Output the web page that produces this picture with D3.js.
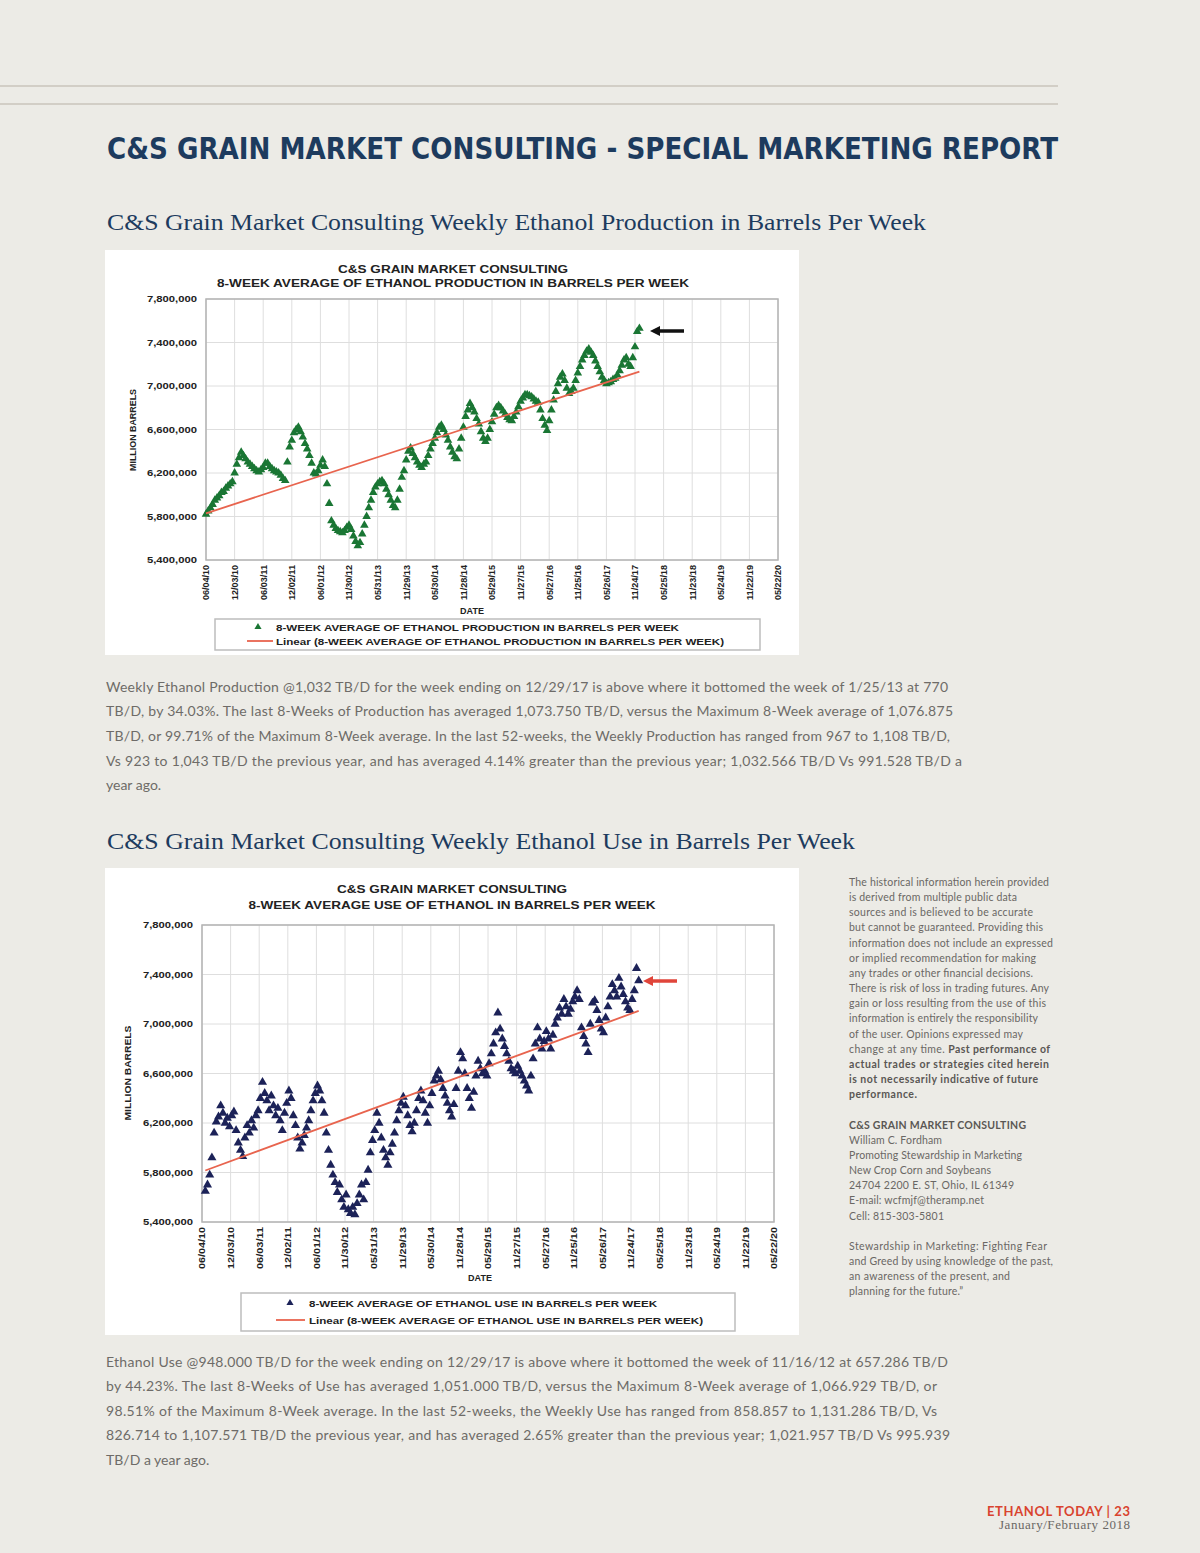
<!DOCTYPE html>
<html><head><meta charset="utf-8">
<script src="https://cdn.jsdelivr.net/npm/d3@7"></script>
<style>body{margin:0;background:#ecebe6;}svg{display:block;}</style>
</head><body>
<svg id="page" width="1200" height="1553"></svg>
<script>
// ---------------- DATA ----------------
const xTickLabels = ["06/04/10","12/03/10","06/03/11","12/02/11","06/01/12","11/30/12","05/31/13","11/29/13","05/30/14","11/28/14","05/29/15","11/27/15","05/27/16","11/25/16","05/26/17","11/24/17","05/25/18","11/23/18","05/24/19","11/22/19","05/22/20"];
const yTickValues = [5.4, 5.8, 6.2, 6.6, 7.0, 7.4, 7.8]; // million barrels
const yTickLabels = ["5,400,000","5,800,000","6,200,000","6,600,000","7,000,000","7,400,000","7,800,000"];

// 8-week average ethanol production, million barrels/week, one value every 2 weeks from 06/04/10
const productionStart = "06/04/10";
const productionValues = [
5.82,5.85,5.88,5.91,5.95,5.97,5.99,6.02,6.03,6.06,
6.08,6.10,6.12,6.20,6.28,6.34,6.39,6.36,6.33,6.30,
6.28,6.26,6.24,6.22,6.21,6.23,6.25,6.29,6.29,6.26,
6.24,6.22,6.21,6.20,6.18,6.15,6.13,6.30,6.44,6.50,
6.57,6.60,6.62,6.58,6.53,6.47,6.42,6.36,6.29,6.20,
6.19,6.22,6.27,6.32,6.26,6.10,5.92,5.76,5.72,5.69,
5.67,5.66,5.65,5.67,5.70,5.72,5.68,5.62,5.57,5.53,
5.56,5.64,5.72,5.80,5.88,5.95,6.02,6.07,6.10,6.12,
6.13,6.10,6.05,6.00,5.95,5.90,5.88,5.95,6.05,6.16,
6.22,6.32,6.40,6.43,6.38,6.34,6.30,6.27,6.25,6.28,
6.30,6.36,6.42,6.47,6.52,6.57,6.62,6.64,6.60,6.55,
6.50,6.44,6.39,6.35,6.33,6.42,6.52,6.62,6.72,6.78,
6.84,6.80,6.76,6.70,6.65,6.58,6.52,6.49,6.52,6.60,
6.67,6.74,6.80,6.82,6.80,6.77,6.74,6.71,6.69,6.68,
6.72,6.76,6.81,6.86,6.89,6.92,6.92,6.91,6.90,6.88,
6.86,6.85,6.78,6.70,6.64,6.59,6.68,6.78,6.87,6.95,
7.02,7.08,7.11,7.05,6.98,6.93,6.95,6.98,7.05,7.12,
7.18,7.24,7.28,7.32,7.34,7.31,7.28,7.23,7.18,7.13,
7.08,7.05,7.02,7.03,7.04,7.06,7.07,7.10,7.14,7.19,
7.24,7.26,7.20,7.18,7.26,7.36,7.50,7.53];

// 8-week average ethanol use, million barrels/week, one value every 2 weeks from 06/25/10
const useStart = "06/25/10";
const useValues = [
5.65,5.70,5.78,5.92,6.12,6.21,6.25,6.34,6.28,6.20,
6.24,6.17,6.26,6.29,6.14,6.04,5.98,5.93,6.08,6.18,
6.12,6.22,6.16,6.26,6.30,6.40,6.53,6.44,6.38,6.30,
6.42,6.34,6.26,6.32,6.22,6.14,6.28,6.36,6.46,6.40,
6.26,6.18,6.08,5.99,6.04,6.10,6.16,6.22,6.30,6.38,
6.44,6.50,6.46,6.38,6.28,6.12,5.98,5.86,5.78,5.72,
5.64,5.70,5.58,5.52,5.62,5.50,5.47,5.52,5.46,5.55,
5.62,5.70,5.58,5.72,5.82,5.96,6.06,6.14,6.28,6.20,
6.08,5.98,5.92,5.86,5.96,6.03,6.12,6.22,6.30,6.36,
6.41,6.34,6.26,6.18,6.13,6.20,6.30,6.40,6.46,6.38,
6.28,6.20,6.34,6.44,6.54,6.58,6.62,6.55,6.48,6.42,
6.36,6.30,6.25,6.35,6.48,6.62,6.77,6.72,6.60,6.48,
6.40,6.32,6.45,6.58,6.70,6.64,6.60,6.62,6.58,6.68,
6.76,6.84,6.93,7.09,6.96,6.88,6.82,6.76,6.70,6.64,
6.62,6.60,6.66,6.62,6.58,6.54,6.50,6.46,6.58,6.72,
6.84,6.97,6.88,6.80,6.86,6.94,6.88,6.80,6.91,7.00,
7.05,7.13,7.08,7.20,7.14,7.08,7.12,7.18,7.22,7.27,
7.20,6.97,6.90,6.84,6.77,7.00,7.17,7.19,7.11,7.03,
6.96,6.93,7.05,7.14,7.22,7.32,7.27,7.22,7.37,7.30,
7.24,7.18,7.13,7.11,7.20,7.27,7.45,7.35];

// ---------------- TEXT ----------------
const pageHeading = "C&S GRAIN MARKET CONSULTING - SPECIAL MARKETING REPORT";
const sub1 = "C&S Grain Market Consulting Weekly Ethanol Production in Barrels Per Week";
const sub2 = "C&S Grain Market Consulting Weekly Ethanol Use in Barrels Per Week";
const para1 = [
"Weekly Ethanol Production @1,032 TB/D for the week ending on 12/29/17 is above where it bottomed the week of 1/25/13 at 770",
"TB/D, by 34.03%. The last 8-Weeks of Production has averaged 1,073.750 TB/D, versus the Maximum 8-Week average of 1,076.875",
"TB/D, or 99.71% of the Maximum 8-Week average. In the last 52-weeks, the Weekly Production has ranged from 967 to 1,108 TB/D,",
"Vs 923 to 1,043 TB/D the previous year, and has averaged 4.14% greater than the previous year; 1,032.566 TB/D Vs 991.528 TB/D a",
"year ago."];
const para2 = [
"Ethanol Use @948.000 TB/D for the week ending on 12/29/17 is above where it bottomed the week of 11/16/12 at 657.286 TB/D",
"by 44.23%. The last 8-Weeks of Use has averaged 1,051.000 TB/D, versus the Maximum 8-Week average of 1,066.929 TB/D, or",
"98.51% of the Maximum 8-Week average. In the last 52-weeks, the Weekly Use has ranged from 858.857 to 1,131.286 TB/D, Vs",
"826.714 to 1,107.571 TB/D the previous year, and has averaged 2.65% greater than the previous year; 1,021.957 TB/D Vs 995.939",
"TB/D a year ago."];
const sideLines = [
["The historical information herein provided"],
["is derived from multiple public data"],
["sources and is believed to be accurate"],
["but cannot be guaranteed. Providing this"],
["information does not include an expressed"],
["or implied recommendation for making"],
["any trades or other financial decisions."],
["There is risk of loss in trading futures. Any"],
["gain or loss resulting from the use of this"],
["information is entirely the responsibility"],
["of the user. Opinions expressed may"],
["change at any time. ","Past performance of"],
["","actual trades or strategies cited herein"],
["","is not necessarily indicative of future"],
["","performance."],
null,
["","C&S GRAIN MARKET CONSULTING"],
["William C. Fordham"],
["Promoting Stewardship in Marketing"],
["New Crop Corn and Soybeans"],
["24704 2200 E. ST, Ohio, IL 61349"],
["E-mail: wcfmjf@theramp.net"],
["Cell: 815-303-5801"],
null,
["Stewardship in Marketing: Fighting Fear"],
["and Greed by using knowledge of the past,"],
["an awareness of the present, and"],
["planning for the future.\u201D"]];

// ---------------- DRAW ----------------
const svg = d3.select('#page');
const navy = '#1d3b5e';
function T(parent, x, y, str, o) {
  o = o || {};
  const t = parent.append('text').attr('x', x).attr('y', y).text(str)
    .attr('font-family', o.ff || 'Lato').attr('font-size', o.fs || 14)
    .attr('fill', o.fill || '#000').attr('font-weight', o.fw || 'normal')
    .attr('text-anchor', o.anchor || 'start');
  if (o.len) t.attr('textLength', o.len).attr('lengthAdjust', o.adj || 'spacingAndGlyphs');
  if (o.ls) t.attr('letter-spacing', o.ls);
  return t;
}

// top rules
[86, 104].forEach(yy => svg.append('line').attr('x1', 0).attr('x2', 1058).attr('y1', yy).attr('y2', yy)
  .attr('stroke', '#d2cec6').attr('stroke-width', 2));

T(svg, 107, 159, pageHeading, {ff: 'DejaVu Sans Condensed', fw: 'bold', fs: 31, fill: navy, len: 951});
T(svg, 107, 230, sub1, {ff: 'Liberation Serif', fs: 24, fill: navy, len: 819});
T(svg, 107, 849, sub2, {ff: 'Liberation Serif', fs: 24, fill: navy, len: 748});

const p1len = [842, 847, 844, 856, null], p1y = [692, 716, 741, 766, 790];
para1.forEach((s, i) => T(svg, 106, p1y[i], s, {fs: 14, fill: '#6e6b68', len: p1len[i], adj: 'spacing'}));
const p2len = [842, 831, 831, 844, null], p2y = [1367, 1391, 1416, 1440, 1465];
para2.forEach((s, i) => T(svg, 106, p2y[i], s, {fs: 14, fill: '#6e6b68', len: p2len[i], adj: 'spacing'}));

// side note
const sideLens = [200,168,184,194,204,187,184,200,197,189,174,201,200,189,68,null,177,93,173,142,165,135,95,null,198,204,161,114];
let sy = 886;
sideLines.forEach((ln, i) => {
  if (ln) {
    const t = svg.append('text').attr('x', 849).attr('y', sy).attr('font-family', 'Lato').attr('font-size', 10.5).attr('fill', '#6a6764');
    t.append('tspan').text(ln[0]);
    if (ln[1]) t.append('tspan').attr('font-weight', 'bold').attr('fill', '#5a5754').text(ln[1]);
    if (sideLens[i]) t.attr('textLength', sideLens[i]).attr('lengthAdjust', 'spacing');
  }
  sy += 15.16;
});

// footer
T(svg, 1130, 1516, "ETHANOL TODAY | 23", {ff: 'Lato', fw: 'bold', fs: 13, fill: '#d9432f', anchor: 'end', len: 143, adj: 'spacing'});
T(svg, 1130, 1529, "January/February 2018", {ff: 'Liberation Serif', fs: 13, fill: '#6a6764', anchor: 'end', len: 131, adj: 'spacing'});

const parse = d3.timeParse('%m/%d/%y');
const tickDates = xTickLabels.map(parse);

function drawChart(c) {
  const g = svg.append('g');
  g.append('rect').attr('x', c.box[0]).attr('y', c.box[1]).attr('width', c.box[2]).attr('height', c.box[3]).attr('fill', '#fff');
  const x = d3.scaleTime().domain([tickDates[0], tickDates[tickDates.length - 1]]).range([c.l, c.r]);
  const y = d3.scaleLinear().domain([yTickValues[0], yTickValues[yTickValues.length - 1]]).range([c.b, c.t]);
  const cf = 'Liberation Sans';

  // grid
  g.append('g').selectAll('line').data(tickDates).join('line')
    .attr('x1', d => x(d)).attr('x2', d => x(d)).attr('y1', c.t).attr('y2', c.b)
    .attr('stroke', '#dedede').attr('stroke-width', 1);
  g.append('g').selectAll('line').data(yTickValues).join('line')
    .attr('y1', d => y(d)).attr('y2', d => y(d)).attr('x1', c.l).attr('x2', c.r)
    .attr('stroke', '#dedede').attr('stroke-width', 1);
  g.append('rect').attr('x', c.l).attr('y', c.t).attr('width', c.r - c.l).attr('height', c.b - c.t)
    .attr('fill', 'none').attr('stroke', '#b4b4b4').attr('stroke-width', 1.5);

  // axes
  g.append('g').attr('transform', `translate(${c.l},0)`)
    .call(d3.axisLeft(y).tickValues(yTickValues).tickFormat((d, i) => yTickLabels[i]).tickSize(0).tickPadding(c.l - c.yLabRight))
    .call(a => {
      a.select('.domain').remove();
      a.selectAll('text').attr('font-family', cf).attr('font-weight', 'bold').attr('font-size', 9).attr('fill', '#222')
        .attr('textLength', c.yLabLen).attr('lengthAdjust', 'spacingAndGlyphs');
    });
  g.append('g').attr('transform', `translate(0,${c.b})`)
    .call(d3.axisBottom(x).tickValues(tickDates).tickFormat((d, i) => xTickLabels[i]).tickSize(0))
    .call(a => {
      a.select('.domain').remove();
      a.selectAll('text').attr('font-family', cf).attr('font-weight', 'bold').attr('font-size', 8.5).attr('fill', '#222')
        .attr('transform', 'rotate(-90)').attr('text-anchor', 'end').attr('x', -5).attr('y', 0).attr('dy', '0.35em')
        .attr('textLength', c.xLabLen).attr('lengthAdjust', 'spacingAndGlyphs');
    });

  // titles
  c.titles.forEach((s, i) => T(g, c.titleX, c.titleY[i], s, {ff: cf, fw: 'bold', fs: 10.5, fill: '#222', anchor: 'middle', len: c.titleLen[i]}));
  T(g, c.dateX, c.dateY, 'DATE', {ff: cf, fw: 'bold', fs: 9, fill: '#222', anchor: 'middle'});
  T(g, 0, 0, 'MILLION BARRELS', {ff: cf, fw: 'bold', fs: 9, fill: '#222', anchor: 'middle', len: c.yTitleLen})
    .attr('transform', `translate(${c.yTitleX},${c.yTitleY}) rotate(-90)`);

  // data
  const start = parse(c.start);
  const data = c.values.map((v, i) => ({d: d3.timeDay.offset(start, i * 14), v}));
  const sym = d3.symbol(d3.symbolTriangle, c.symSize);
  g.append('g').selectAll('path').data(data).join('path')
    .attr('d', sym).attr('transform', p => `translate(${x(p.d)},${y(p.v)})`).attr('fill', c.color);

  // linear trend (least squares)
  const xs = data.map(p => +p.d), ys = data.map(p => p.v);
  const mx = d3.mean(xs), my = d3.mean(ys);
  const slope = d3.sum(xs, (xx, i) => (xx - mx) * (ys[i] - my)) / d3.sum(xs, xx => (xx - mx) * (xx - mx));
  const x0 = xs[0], x1 = xs[xs.length - 1];
  g.append('line').attr('x1', x(new Date(x0))).attr('y1', y(my + slope * (x0 - mx)))
    .attr('x2', x(new Date(x1))).attr('y2', y(my + slope * (x1 - mx)))
    .attr('stroke', '#e8644e').attr('stroke-width', 1.8);

  // arrow
  const ar = c.arrow;
  g.append('line').attr('x1', ar.x1 + 8).attr('x2', ar.x2).attr('y1', ar.y).attr('y2', ar.y).attr('stroke', ar.color).attr('stroke-width', 3.5);
  g.append('path').attr('d', `M${ar.x1},${ar.y} L${ar.x1 + 10},${ar.y - 5} L${ar.x1 + 10},${ar.y + 5} Z`).attr('fill', ar.color);

  // legend
  const L = c.legend;
  g.append('rect').attr('x', L.x).attr('y', L.y).attr('width', L.w).attr('height', L.h)
    .attr('fill', '#fff').attr('stroke', '#bdbdbd').attr('stroke-width', 1.5);
  g.append('path').attr('d', d3.symbol(d3.symbolTriangle, 22)).attr('transform', `translate(${L.triX},${L.row1})`).attr('fill', c.color);
  T(g, L.textX, L.row1 + 3.5, c.legendText[0], {ff: cf, fw: 'bold', fs: 9, fill: '#222', len: L.len[0]});
  g.append('line').attr('x1', L.lineX[0]).attr('x2', L.lineX[1]).attr('y1', L.row2).attr('y2', L.row2)
    .attr('stroke', '#e8644e').attr('stroke-width', 1.8);
  T(g, L.textX, L.row2 + 3.5, c.legendText[1], {ff: cf, fw: 'bold', fs: 9, fill: '#222', len: L.len[1]});
}

drawChart({
  box: [105, 250, 694, 405], l: 206, r: 778, t: 299, b: 560,
  yLabRight: 197, yLabLen: 50, xLabLen: 35,
  titles: ["C&S GRAIN MARKET CONSULTING", "8-WEEK AVERAGE OF ETHANOL PRODUCTION IN BARRELS PER WEEK"],
  titleX: 453, titleY: [273, 287], titleLen: [230, 472],
  dateX: 472, dateY: 614, yTitleX: 136, yTitleY: 430, yTitleLen: 82,
  start: productionStart, values: productionValues, color: '#1a7634', symSize: 32,
  arrow: {x1: 650, x2: 684, y: 331, color: '#111'},
  legend: {x: 215, y: 619, w: 545, h: 31, row1: 627, row2: 641, triX: 258, textX: 276, lineX: [247, 273], len: [403, 448]},
  legendText: ["8-WEEK AVERAGE OF ETHANOL PRODUCTION IN BARRELS PER WEEK", "Linear (8-WEEK AVERAGE OF ETHANOL PRODUCTION IN BARRELS PER WEEK)"]
});

drawChart({
  box: [105, 868, 694, 467], l: 202, r: 774, t: 925, b: 1222,
  yLabRight: 193, yLabLen: 50, xLabLen: 42,
  titles: ["C&S GRAIN MARKET CONSULTING", "8-WEEK AVERAGE USE OF ETHANOL IN BARRELS PER WEEK"],
  titleX: 452, titleY: [893, 909], titleLen: [230, 407],
  dateX: 480, dateY: 1281, yTitleX: 131, yTitleY: 1073, yTitleLen: 95,
  start: useStart, values: useValues, color: '#1c2258', symSize: 36,
  arrow: {x1: 643, x2: 677, y: 981, color: '#e0453a'},
  legend: {x: 241, y: 1293, w: 494, h: 38, row1: 1303, row2: 1320, triX: 290, textX: 309, lineX: [276, 305], len: [348, 394]},
  legendText: ["8-WEEK AVERAGE OF ETHANOL USE IN BARRELS PER WEEK", "Linear (8-WEEK AVERAGE OF ETHANOL USE IN BARRELS PER WEEK)"]
});
</script>
</body></html>
